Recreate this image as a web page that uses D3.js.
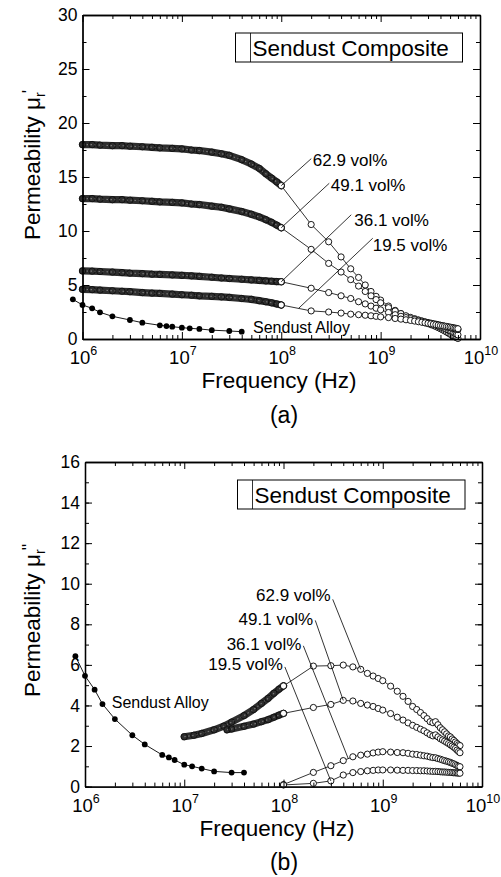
<!DOCTYPE html>
<html>
<head>
<meta charset="utf-8">
<script src="https://cdn.jsdelivr.net/npm/d3@7"></script>
<style>
  html, body { margin: 0; padding: 0; background: #fff; }
  svg { display: block; }
  text { font-family: 'Liberation Sans', Arial, Helvetica, sans-serif; fill: #000; }
</style>
</head>
<body>
<svg id="fig" width="501" height="877"></svg>
<script>
// ---------- measured data ----------
// Bulk Sendust alloy (filled dots)
const alloyFreq = [8e5, 1e6, 1.25e6, 1.5e6, 2e6, 3e6, 4e6, 6e6, 7e6, 8e6, 1e7, 1.2e7, 1.5e7, 2e7, 3e7, 4e7];
const alloyReal = [3.67, 3.15, 2.84, 2.47, 2.1, 1.76, 1.51, 1.27, 1.2, 1.14, 1.05, 0.99, 0.93, 0.82, 0.74, 0.68];
const alloyImag = [6.43, 5.46, 4.78, 4.07, 3.33, 2.53, 2.08, 1.56, 1.44, 1.31, 1.08, 1.0, 0.89, 0.75, 0.69, 0.69];

// Composites, impedance-analyser sweep (1 MHz - 100 MHz)
const lowFreq = [1e6, 1.25e6, 1.5e6, 2e6, 2.5e6, 3e6, 4e6, 5e6, 6e6, 8e6, 1e7, 1.25e7, 1.5e7, 2e7, 2.5e7, 3e7, 4e7, 5e7, 6e7, 7e7, 8e7, 9e7, 1e8];
const real629Low = [18.0, 18.0, 17.95, 17.9, 17.9, 17.85, 17.8, 17.75, 17.7, 17.65, 17.6, 17.5, 17.45, 17.3, 17.15, 17.0, 16.6, 16.2, 15.8, 15.3, 14.9, 14.55, 14.2];
const real491Low = [13.0, 13.0, 12.95, 12.9, 12.9, 12.85, 12.8, 12.75, 12.7, 12.65, 12.6, 12.5, 12.45, 12.3, 12.2, 12.05, 11.8, 11.55, 11.3, 11.05, 10.8, 10.55, 10.3];
const real361Low = [6.3, 6.28, 6.25, 6.2, 6.15, 6.1, 6.05, 6.0, 5.98, 5.93, 5.9, 5.85, 5.8, 5.72, 5.65, 5.6, 5.53, 5.47, 5.42, 5.38, 5.35, 5.32, 5.3];
const real195Low = [4.6, 4.57, 4.53, 4.47, 4.42, 4.38, 4.3, 4.25, 4.22, 4.16, 4.1, 4.05, 4.0, 3.95, 3.9, 3.85, 3.75, 3.67, 3.55, 3.45, 3.35, 3.25, 3.15];

const imag629LowFreq = [1e7, 1.25e7, 1.5e7, 2e7, 2.5e7, 3e7, 4e7, 5e7, 6e7, 7e7, 8e7, 9e7, 1e8];
const imag629Low = [2.46, 2.53, 2.62, 2.8, 2.98, 3.18, 3.5, 3.8, 4.1, 4.35, 4.6, 4.8, 4.97];
const imag491LowFreq = [2.7e7, 3e7, 4e7, 5e7, 6e7, 7e7, 8e7, 9e7, 1e8];
const imag491Low = [2.8, 2.84, 2.97, 3.08, 3.2, 3.3, 3.42, 3.52, 3.61];

// Composites, network-analyser sweep (100 MHz - 6 GHz)
const highFreq = [1e8, 2e8, 3e8, 4e8, 5e8, 6e8, 7e8, 8e8, 9e8, 1e9,
  1.2e9, 1.4e9, 1.6e9, 1.8e9, 2e9, 2.2e9, 2.4e9, 2.6e9, 2.8e9, 3e9,
  3.2e9, 3.4e9, 3.6e9, 3.8e9, 4e9, 4.2e9, 4.4e9, 4.6e9, 4.8e9, 5e9,
  5.2e9, 5.4e9, 5.6e9, 5.8e9, 6e9];
const real629High = [14.2, 10.6, 9.0, 7.6, 6.5, 5.7, 5.0, 4.4, 3.95, 3.6,
  3.05, 2.65, 2.35, 2.1, 1.95, 1.8, 1.7, 1.6, 1.5, 1.42,
  1.33, 1.25, 1.15, 1.05, 0.95, 0.85, 0.75, 0.65, 0.55, 0.45,
  0.37, 0.28, 0.2, 0.12, 0.05];
const real491High = [10.3, 8.3, 7.0, 6.2, 5.5, 4.9, 4.4, 4.0, 3.65, 3.35,
  2.9, 2.6, 2.35, 2.15, 2.0, 1.88, 1.77, 1.67, 1.58, 1.5,
  1.42, 1.35, 1.28, 1.2, 1.12, 1.05, 0.98, 0.9, 0.83, 0.76,
  0.68, 0.6, 0.52, 0.45, 0.38];
const real361High = [5.3, 4.7, 4.3, 4.0, 3.75, 3.45, 3.25, 3.05, 2.85, 2.7,
  2.45, 2.25, 2.1, 1.98, 1.88, 1.8, 1.72, 1.65, 1.58, 1.52,
  1.47, 1.42, 1.37, 1.32, 1.27, 1.22, 1.18, 1.13, 1.09, 1.05,
  1.0, 0.97, 0.93, 0.9, 0.87];
const real195High = [3.15, 2.6, 2.5, 2.4, 2.3, 2.25, 2.2, 2.15, 2.1, 2.05,
  1.98, 1.9, 1.84, 1.78, 1.72, 1.66, 1.6, 1.55, 1.5, 1.45,
  1.41, 1.37, 1.33, 1.29, 1.25, 1.22, 1.19, 1.16, 1.13, 1.1,
  1.07, 1.04, 1.01, 0.98, 0.95];

const imag629High = [4.96, 5.94, 5.96, 5.99, 5.9, 5.78, 5.58, 5.45, 5.33, 5.22,
  4.95, 4.7, 4.45, 4.2, 3.95, 3.8, 3.65, 3.5, 3.35, 3.2,
  3.15, 3.2, 3.05, 2.9, 2.8, 2.7, 2.6, 2.5, 2.45, 2.35,
  2.28, 2.2, 2.12, 2.06, 2.02];
const imag491High = [3.61, 3.9, 4.05, 4.25, 4.22, 4.1, 4.02, 3.95, 3.85, 3.77,
  3.6, 3.42, 3.28, 3.14, 3.02, 2.92, 2.83, 2.75, 2.65, 2.56,
  2.5, 2.55, 2.45, 2.36, 2.3, 2.24, 2.18, 2.12, 2.06, 2.0,
  1.94, 1.88, 1.8, 1.73, 1.67];
const imag361High = [0.1, 0.7, 1.03, 1.28, 1.47, 1.55, 1.6, 1.66, 1.7, 1.72,
  1.7, 1.68, 1.67, 1.64, 1.6, 1.58, 1.55, 1.52, 1.5, 1.46,
  1.43, 1.42, 1.38, 1.35, 1.31, 1.28, 1.25, 1.22, 1.19, 1.15,
  1.12, 1.08, 1.04, 1.0, 0.98];
const imag195High = [0.08, 0.16, 0.28, 0.57, 0.69, 0.74, 0.78, 0.8, 0.82, 0.82,
  0.82, 0.81, 0.8, 0.8, 0.79, 0.79, 0.78, 0.78, 0.77, 0.76,
  0.75, 0.75, 0.74, 0.73, 0.72, 0.72, 0.71, 0.7, 0.7, 0.69,
  0.68, 0.68, 0.67, 0.66, 0.66];

const seriesNames = ["62.9 vol%", "49.1 vol%", "36.1 vol%", "19.5 vol%"];
const xTickValues = [1e6, 1e7, 1e8, 1e9, 1e10];
const xTickExponents = ["6", "7", "8", "9", "10"];
const realTicks = [0, 5, 10, 15, 20, 25, 30];
const imagTicks = [0, 2, 4, 6, 8, 10, 12, 14, 16];

const zip = (fs, vs) => fs.map((f, i) => ({ f, v: vs[i] }));

// ---------- drawing ----------
const svg = d3.select("#fig");

function drawPanel(p) {
  const g = svg.append("g");
  const x = d3.scaleLog().domain([1e6, 1e10]).range([p.left, p.right]);
  const y = d3.scaleLinear().domain([0, p.yMax]).range([p.bottom, p.top]);
  const line = d3.line().x(d => x(d.f)).y(d => y(d.v));

  // bulk alloy
  const alloy = zip(alloyFreq, p.alloy);
  g.append("path").attr("d", line(alloy)).attr("fill", "none")
    .attr("stroke", "#000").attr("stroke-width", 0.9);
  g.selectAll(null).data(alloy).join("circle")
    .attr("cx", d => x(d.f)).attr("cy", d => y(d.v)).attr("r", 2.9)
    .attr("fill", "#000");

  // densely sampled low-frequency sweeps: overlapping markers form a dark band
  p.low.forEach(s => {
    const pts = zip(s.f, s.v);
    g.append("path").attr("d", line(pts)).attr("fill", "none")
      .attr("stroke", "#2e2e2e").attr("stroke-width", 7.2)
      .attr("stroke-linecap", "round").attr("stroke-linejoin", "round");
    g.append("path").attr("d", line(pts)).attr("fill", "none")
      .attr("stroke", "#7a7a7a").attr("stroke-width", 1.1)
      .attr("stroke-dasharray", "1.5,2.5");
    g.selectAll(null).data(pts).join("circle")
      .attr("cx", d => x(d.f)).attr("cy", d => y(d.v)).attr("r", 3.2)
      .attr("fill", "none").attr("stroke", "#0a0a0a").attr("stroke-width", 0.8);
  });

  // network-analyser sweeps: open circles joined by thin lines
  p.high.forEach(vs => {
    const pts = zip(highFreq, vs);
    g.append("path").attr("d", line(pts)).attr("fill", "none")
      .attr("stroke", "#000").attr("stroke-width", 0.8);
  });
  p.high.forEach(vs => {
    const pts = zip(highFreq, vs);
    g.selectAll(null).data(pts).join("circle")
      .attr("cx", d => x(d.f)).attr("cy", d => y(d.v)).attr("r", 3.1)
      .attr("fill", "#fff").attr("stroke", "#000").attr("stroke-width", 0.9);
  });

  // series labels with leader lines
  p.labels.forEach(a => {
    const x0 = x(a.f), y0 = y(a.v);
    g.append("line").attr("x1", x0).attr("y1", y0)
      .attr("x2", x0 + a.dx).attr("y2", y0 + a.dy)
      .attr("stroke", "#000").attr("stroke-width", 0.8);
    g.append("text").attr("x", x0 + a.dx + a.tx).attr("y", y0 + a.dy + a.ty)
      .attr("text-anchor", a.anchor).attr("font-size", 17).text(a.name);
  });

  // bulk alloy label
  g.append("text").attr("x", x(p.alloyLabel.f)).attr("y", y(p.alloyLabel.v))
    .attr("font-size", 16).text("Sendust Alloy");

  // legend box
  const lg = p.legend;
  g.append("rect").attr("x", lg.x).attr("y", lg.y).attr("width", lg.w).attr("height", lg.h)
    .attr("fill", "#fff").attr("stroke", "#000").attr("stroke-width", 1);
  g.append("line").attr("x1", lg.x + 15).attr("x2", lg.x + 15)
    .attr("y1", lg.y).attr("y2", lg.y + lg.h).attr("stroke", "#000").attr("stroke-width", 0.8);
  g.append("text").attr("x", lg.x + 17).attr("y", lg.y + 23)
    .attr("font-size", 22.5).text("Sendust Composite");

  // axes: ticks point inward on all four sides
  const minorX = [];
  for (let e = 6; e < 10; e++) for (let k = 2; k <= 9; k++) minorX.push(k * Math.pow(10, e));
  const minorY = d3.range(0, p.yMax + 1e-9, p.yMinor);
  const style = sel => {
    sel.select(".domain").attr("stroke-width", 1.3);
    sel.selectAll(".tick line").attr("stroke-width", 1);
  };
  const ax = (axis, tr) => g.append("g").attr("transform", tr).call(axis).call(style);

  ax(d3.axisBottom(x).tickValues(xTickValues).tickSize(-7).tickSizeOuter(0).tickFormat(""), `translate(0,${p.bottom})`);
  ax(d3.axisBottom(x).tickValues(minorX).tickSize(-4).tickSizeOuter(0).tickFormat(""), `translate(0,${p.bottom})`);
  ax(d3.axisTop(x).tickValues(xTickValues).tickSize(-7).tickSizeOuter(0).tickFormat(""), `translate(0,${p.top})`);
  ax(d3.axisTop(x).tickValues(minorX).tickSize(-4).tickSizeOuter(0).tickFormat(""), `translate(0,${p.top})`);
  ax(d3.axisLeft(y).tickValues(minorY).tickSize(-4).tickSizeOuter(0).tickFormat(""), `translate(${p.left},0)`);
  ax(d3.axisRight(y).tickValues(minorY).tickSize(-4).tickSizeOuter(0).tickFormat(""), `translate(${p.right},0)`);
  ax(d3.axisRight(y).tickValues(p.yTicks).tickSize(-7).tickSizeOuter(0).tickFormat(""), `translate(${p.right},0)`);
  const yl = ax(d3.axisLeft(y).tickValues(p.yTicks).tickSize(-7).tickSizeOuter(0).tickPadding(5).tickFormat(d3.format("d")), `translate(${p.left},0)`);
  yl.selectAll("text").attr("font-size", 17.5).attr("font-family", null).attr("fill", "#000");

  // decade labels 10^n
  xTickValues.forEach((v, i) => {
    const t = g.append("text").attr("x", x(v) + 1).attr("y", p.bottom + 25)
      .attr("text-anchor", "middle").attr("font-size", 18.5);
    t.append("tspan").text("10");
    t.append("tspan").attr("dy", -9).attr("font-size", 12.5).text(xTickExponents[i]);
  });

  // axis titles
  g.append("text").attr("x", p.xTitleX).attr("y", p.bottom + 49)
    .attr("text-anchor", "middle").attr("font-size", 22.5).text("Frequency (Hz)");
  const yt = g.append("text").attr("transform", `translate(40,${p.yTitleY}) rotate(-90)`)
    .attr("font-size", 22.5);
  yt.append("tspan").text("Permeability \u03bc");
  yt.append("tspan").attr("font-size", 14).attr("dy", 5).text("r");
  yt.append("tspan").attr("font-size", 18).attr("dx", -1).attr("dy", -10).text(p.prime);

  g.append("text").attr("x", 284).attr("y", p.captionY)
    .attr("text-anchor", "middle").attr("font-size", 23).text(p.caption);
}

drawPanel({
  left: 82.5, right: 480, top: 15, bottom: 339,
  yMax: 30, yTicks: realTicks, yMinor: 2.5,
  alloy: alloyReal,
  low: [
    { f: lowFreq, v: real629Low }, { f: lowFreq, v: real491Low },
    { f: lowFreq, v: real361Low }, { f: lowFreq, v: real195Low }
  ],
  high: [real629High, real491High, real361High, real195High],
  labels: [
    { name: seriesNames[0], f: 1e8, v: 14.2, dx: 30, dy: -27, tx: 1.5, ty: 7.5, anchor: "start" },
    { name: seriesNames[1], f: 1e8, v: 10.3, dx: 48, dy: -44.5, tx: 1.5, ty: 8, anchor: "start" },
    { name: seriesNames[2], f: 1e8, v: 5.3, dx: 70, dy: -67, tx: 3, ty: 11, anchor: "start" },
    { name: seriesNames[3], f: 1.5e8, v: 2.85, dx: 74, dy: -70, tx: 0, ty: 12.5, anchor: "start" }
  ],
  alloyLabel: { f: 5.2e7, v: 0.58 },
  legend: { x: 235.5, y: 33, w: 227, h: 29 },
  xTitleX: 279, yTitleY: 240,
  prime: "'", caption: "(a)", captionY: 423
});

drawPanel({
  left: 85, right: 482, top: 462, bottom: 786.6,
  yMax: 16, yTicks: imagTicks, yMinor: 1,
  alloy: alloyImag,
  low: [
    { f: imag629LowFreq, v: imag629Low }, { f: imag491LowFreq, v: imag491Low }
  ],
  high: [imag629High, imag491High, imag361High, imag195High],
  labels: [
    { name: seriesNames[0], f: 6e8, v: 5.78, dx: -28, dy: -70, tx: -2, ty: 2, anchor: "end" },
    { name: seriesNames[1], f: 4e8, v: 4.25, dx: -28, dy: -80, tx: -2, ty: 5, anchor: "end" },
    { name: seriesNames[2], f: 4.5e8, v: 1.37, dx: -45, dy: -113, tx: -2, ty: 4, anchor: "end" },
    { name: seriesNames[3], f: 3e8, v: 0.28, dx: -46, dy: -114, tx: -2, ty: 3.5, anchor: "end" }
  ],
  alloyLabel: { f: 1.86e6, v: 3.87 },
  legend: { x: 237.5, y: 480, w: 227.5, h: 29 },
  xTitleX: 277, yTitleY: 697,
  prime: "\"", caption: "(b)", captionY: 870
});
</script>
</body>
</html>
